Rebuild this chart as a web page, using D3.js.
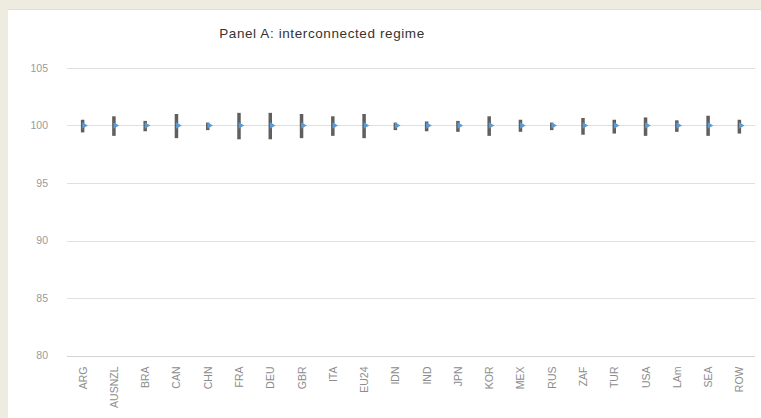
<!DOCTYPE html>
<html>
<head>
<meta charset="utf-8">
<script src="https://cdn.jsdelivr.net/npm/d3@7"></script>
<style>
  html, body { margin: 0; padding: 0; background: #eeebe0; }
  svg { display: block; }
</style>
</head>
<body>
<svg id="chart" width="761" height="418"></svg>
<script>
// Regions on the x axis
const regions = ["ARG","AUSNZL","BRA","CAN","CHN","FRA","DEU","GBR","ITA","EU24",
                 "IDN","IND","JPN","KOR","MEX","RUS","ZAF","TUR","USA","LAm","SEA","ROW"];
// Upper end of each range
const highValues = [100.5, 100.8, 100.4, 101.0, 100.25, 101.1, 101.1, 101.0, 100.8, 101.0,
                    100.25, 100.35, 100.4, 100.8, 100.5, 100.25, 100.65, 100.5, 100.7, 100.45, 100.85, 100.5];
// Lower end of each range
const lowValues  = [99.4, 99.1, 99.5, 98.9, 99.6, 98.8, 98.8, 98.9, 99.1, 98.9,
                    99.6, 99.5, 99.45, 99.1, 99.45, 99.6, 99.2, 99.3, 99.1, 99.45, 99.1, 99.3];
// Central value marked on each range
const centralValues = [100, 100, 100, 100, 100, 100, 100, 100, 100, 100,
                       100, 100, 100, 100, 100, 100, 100, 100, 100, 100, 100, 100];
const yTicks = [80, 85, 90, 95, 100, 105];
const titleText = "Panel A: interconnected regime";

const svg = d3.select("#chart");

// white chart area on the beige frame
svg.append("rect").attr("x", 8).attr("y", 9).attr("width", 753).attr("height", 409)
  .attr("fill", "#ffffff");
svg.append("line").attr("x1", 8).attr("x2", 761).attr("y1", 9.5).attr("y2", 9.5)
  .attr("stroke", "#e2e0d8").attr("stroke-width", 1);

const plot = { left: 67, right: 755, top: 68, bottom: 355.5 };

const x = d3.scaleBand().domain(regions).range([plot.left, plot.right]).padding(0);
const y = d3.scaleLinear().domain([80, 105]).range([plot.bottom, plot.top]);

// horizontal gridlines
svg.append("g").selectAll("line").data(yTicks).join("line")
  .attr("x1", plot.left).attr("x2", plot.right)
  .attr("y1", d => Math.round(y(d)) + 0.5).attr("y2", d => Math.round(y(d)) + 0.5)
  .attr("stroke", d => d === 80 ? "#d4d4d4" : "#e0e0e0").attr("stroke-width", 1);

// y axis labels
const yAxis = d3.axisLeft(y).tickValues(yTicks).tickSize(0).tickPadding(0);
const gy = svg.append("g").attr("transform", "translate(48,0)").call(yAxis);
gy.select(".domain").remove();
gy.selectAll("text")
  .attr("font-family", "Liberation Sans, Arial, sans-serif")
  .attr("font-size", 10.5).attr("fill", "#9a9a9a");

// x axis labels, rotated
const xAxis = d3.axisBottom(x).tickSize(0).tickPadding(0);
const gx = svg.append("g").attr("transform", `translate(0,${plot.bottom})`).call(xAxis);
gx.select(".domain").remove();
gx.selectAll("text")
  .attr("font-family", "Liberation Sans, Arial, sans-serif")
  .attr("font-size", 10.5).attr("fill", "#8c8c8c")
  .attr("text-anchor", "end")
  .attr("dy", null)
  .attr("transform", "translate(4,11) rotate(-90)");

// high-low ranges
const rows = regions.map((r, i) => ({ r, hi: highValues[i], lo: lowValues[i], c: centralValues[i] }));
svg.append("g").selectAll("line").data(rows).join("line")
  .attr("x1", d => x(d.r) + x.bandwidth() / 2).attr("x2", d => x(d.r) + x.bandwidth() / 2)
  .attr("y1", d => y(d.hi)).attr("y2", d => y(d.lo))
  .attr("stroke", "#5f5f5f").attr("stroke-width", 3.5);

// central markers: small right-pointing triangles
const tri = d3.symbol().type(d3.symbolTriangle).size(18);
svg.append("g").selectAll("path").data(rows).join("path")
  .attr("d", tri)
  .attr("transform", d => `translate(${x(d.r) + x.bandwidth() / 2 + 1.5},${y(d.c)}) rotate(90)`)
  .attr("fill", "#5b9bd5");

// title
svg.append("text")
  .attr("x", 322).attr("y", 38)
  .attr("text-anchor", "middle")
  .attr("font-family", "Liberation Sans, Arial, sans-serif")
  .attr("font-size", 13.5).attr("letter-spacing", 0.6).attr("fill", "#333333")
  .text(titleText);
</script>
</body>
</html>
